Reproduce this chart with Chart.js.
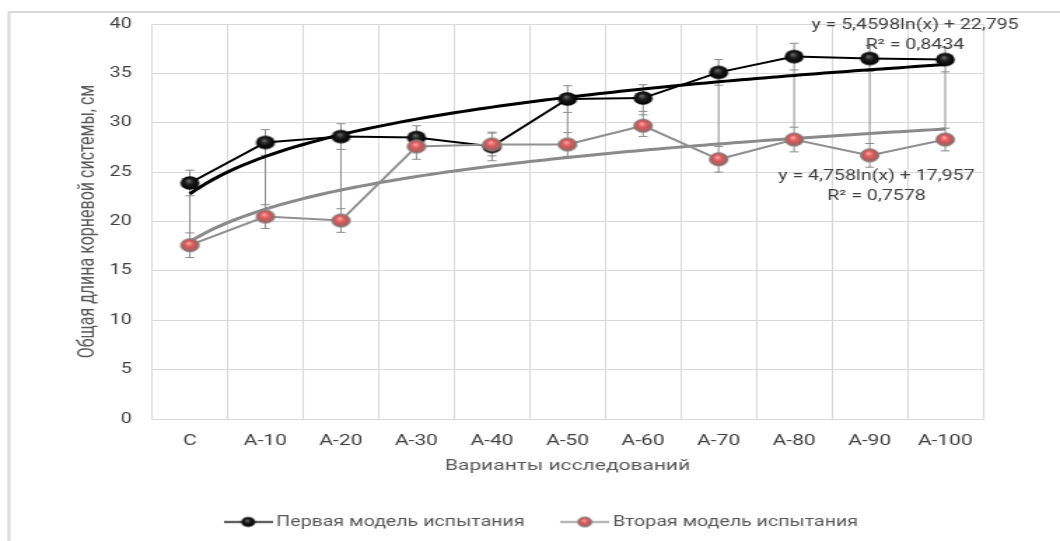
<!DOCTYPE html>
<html lang="ru">
<head>
  <meta charset="UTF-8" />
  <title>Общая длина корневой системы</title>
  <script src="https://cdn.jsdelivr.net/npm/chart.js"></script>
  <style>
    html, body { margin: 0; padding: 0; background: #fff; overflow: hidden; }
    /* the source picture is stretched sideways, so draw narrow and widen it */
    .chart-box { width: 757px; height: 541px; transform: scaleX(1.40026); transform-origin: 0 0; }
  </style>
</head>
<body>
  <div class="chart-box"><canvas id="rootChart"></canvas></div>

  <script>
    const categories = ['C', 'A-10', 'A-20', 'A-30', 'A-40', 'A-50', 'A-60', 'A-70', 'A-80', 'A-90', 'A-100'];
    const seriesNames = ['Первая модель испытания', 'Вторая модель испытания'];

    const firstModel = [23.9, 28.0, 28.6, 28.5, 27.6, 32.4, 32.5, 35.1, 36.7, 36.5, 36.4];
    const firstModelErr = [1.3, 1.3, 1.3, 1.2, 1.45, 1.35, 1.35, 1.3, 1.35, 1.3, 1.25];
    const secondModel = [17.6, 20.5, 20.1, 27.6, 27.8, 27.8, 29.7, 26.3, 28.3, 26.7, 28.3];
    const secondModelErr = [1.25, 1.2, 1.2, 1.3, 1.15, 1.2, 1.1, 1.3, 1.25, 1.2, 1.15];

    // log trendlines as printed on the chart: y = a*ln(x) + b
    const firstTrend = [5.4598, 22.795];
    const secondTrend = [4.758, 17.957];
    const firstTrendText = ['y = 5,4598ln(x) + 22,795', 'R² = 0,8434'];
    const secondTrendText = ['y = 4,758ln(x) + 17,957', 'R² = 0,7578'];

    const yTitle = 'Общая длина корневой системы, см';
    const xTitle = 'Варианты исследований';

    const FONT = 'Roboto, "Open Sans", sans-serif';
    const GRID = '#d9d9d9';

    // glossy ball used as marker (optionally with a line through it for the legend)
    function ballIcon(kind, w, h, r, lineColor) {
      const c = document.createElement('canvas');
      c.width = w; c.height = h;
      const g = c.getContext('2d');
      const cx = w / 2, cy = h / 2;
      if (lineColor) {
        g.strokeStyle = lineColor; g.lineWidth = 1.6;
        g.beginPath(); g.moveTo(0, cy); g.lineTo(w, cy); g.stroke();
      }
      const grad = g.createRadialGradient(cx - r * 0.15, cy - r * 0.35, 0, cx, cy, r);
      if (kind === 'black') {
        grad.addColorStop(0, '#707070');
        grad.addColorStop(0.45, '#1c1c1c');
        grad.addColorStop(1, '#000');
      } else {
        grad.addColorStop(0, '#ffb0b0');
        grad.addColorStop(0.45, '#e05a5a');
        grad.addColorStop(1, '#8e6464');
      }
      g.fillStyle = grad;
      g.beginPath(); g.arc(cx, cy, r, 0, Math.PI * 2); g.fill();
      if (kind !== 'black') {
        g.strokeStyle = '#8a8a8a'; g.lineWidth = 1; g.stroke();
      }
      return c;
    }

    const blackBall = ballIcon('black', 16, 16, 6.8);
    const redBall = ballIcon('red', 16, 16, 6.6);
    const legendIcons = [ballIcon('black', 35, 13, 5, '#000'), ballIcon('red', 35, 13, 5, '#8c8c8c')];

    function trendPoints(coef) {
      const pts = [];
      for (let k = 0; k <= 100; k++) {
        const x = 1 + k / 10;
        pts.push({ x: x, y: coef[0] * Math.log(x) + coef[1] });
      }
      return pts;
    }

    // frame lines and white background
    const framePlugin = {
      id: 'frame',
      beforeDraw(chart) {
        const { ctx, width, height } = chart;
        ctx.save();
        ctx.fillStyle = '#fff';
        ctx.fillRect(0, 0, width, height);
        ctx.strokeStyle = GRID;
        ctx.lineWidth = 2;
        ctx.beginPath();
        ctx.moveTo(6.4, height); ctx.lineTo(6.4, 12); ctx.lineTo(width, 12);
        ctx.stroke();
        ctx.restore();
      }
    };

    // vertical error bars with caps, drawn under the lines
    const errorBarPlugin = {
      id: 'errorBars',
      beforeDatasetsDraw(chart) {
        const { ctx } = chart;
        const x = chart.scales.x, y = chart.scales.y;
        ctx.save();
        ctx.strokeStyle = '#8c8c8c';
        ctx.lineWidth = 1;
        categories.forEach((c, i) => {
          const px = x.getPixelForValue(i);
          const ends = [
            firstModel[i] + firstModelErr[i], firstModel[i] - firstModelErr[i],
            secondModel[i] + secondModelErr[i], secondModel[i] - secondModelErr[i]
          ];
          ctx.beginPath();
          ctx.moveTo(px, y.getPixelForValue(Math.max(...ends)));
          ctx.lineTo(px, y.getPixelForValue(Math.min(...ends)));
          ends.forEach(v => {
            const py = y.getPixelForValue(v);
            ctx.moveTo(px - 3.2, py);
            ctx.lineTo(px + 3.2, py);
          });
          ctx.stroke();
        });
        ctx.restore();
      }
    };

    // trendline equations
    const trendLabels = [
      { lines: firstTrendText, at: [10.6, 39.8] },
      { lines: secondTrendText, at: [10.09, 24.6] }
    ];
    const trendLabelPlugin = {
      id: 'trendLabels',
      afterDatasetsDraw(chart) {
        const { ctx } = chart;
        const xt = chart.scales.xt, y = chart.scales.y;
        ctx.save();
        ctx.font = '14px ' + FONT;
        ctx.fillStyle = '#404040';
        ctx.textAlign = 'center';
        ctx.textBaseline = 'middle';
        trendLabels.forEach(lbl => {
          const px = xt.getPixelForValue(lbl.at[0]);
          const py = y.getPixelForValue(lbl.at[1]);
          lbl.lines.forEach((t, k) => ctx.fillText(t, px, py + k * 20));
        });
        ctx.restore();
      }
    };

    const ctx = document.getElementById('rootChart').getContext('2d');
    new Chart(ctx, {
      type: 'line',
      data: {
        labels: categories,
        datasets: [
          {
            label: seriesNames[0],
            data: firstModel,
            borderColor: '#000',
            borderWidth: 2,
            pointStyle: blackBall,
            pointRadius: 7,
            order: 1
          },
          {
            label: seriesNames[1],
            data: secondModel,
            borderColor: '#8f8f8f',
            borderWidth: 2,
            pointStyle: redBall,
            pointRadius: 7,
            order: 0
          },
          {
            label: 'trend1',
            data: trendPoints(firstTrend),
            xAxisID: 'xt',
            borderColor: '#000',
            borderWidth: 3,
            pointRadius: 0,
            order: 2
          },
          {
            label: 'trend2',
            data: trendPoints(secondTrend),
            xAxisID: 'xt',
            borderColor: '#8a8a8a',
            borderWidth: 3,
            pointRadius: 0,
            order: 3
          }
        ]
      },
      options: {
        responsive: true,
        maintainAspectRatio: false,
        animation: false,
        events: [],
        layout: { padding: { left: 75, right: 55, top: 24, bottom: 2 } },
        scales: {
          x: {
            type: 'category',
            offset: true,
            grid: { offset: true, color: GRID, drawTicks: false },
            border: { color: GRID },
            ticks: { padding: 13, color: '#404040', font: { family: FONT, size: 15 }, maxRotation: 0, autoSkip: false },
            title: { display: true, text: xTitle, color: '#595959', font: { family: FONT, size: 15 }, padding: { top: 0, bottom: 10 } },
            afterFit(s) { s.height = 66; }
          },
          xt: { type: 'linear', display: false, min: 0.5, max: 11.5 },
          y: {
            min: 0,
            max: 40,
            grid: { color: GRID, drawTicks: false },
            border: { color: GRID },
            ticks: { stepSize: 5, padding: 14.6, color: '#404040', font: { family: FONT, size: 14 } },
            title: { display: true, text: yTitle, color: '#595959', font: { family: FONT, size: 16 }, padding: { top: -22.1, bottom: 0 } },
            afterFit(s) { s.width = 33.6; }
          }
        },
        plugins: {
          tooltip: { enabled: false },
          legend: {
            position: 'bottom',
            labels: {
              usePointStyle: true,
              pointStyleWidth: 26,
              padding: 30,
              color: '#595959',
              font: { family: FONT, size: 14 },
              generateLabels: () => seriesNames.map((name, i) => ({
                text: name,
                datasetIndex: i,
                pointStyle: legendIcons[i],
                fontColor: '#595959',
                fillStyle: 'transparent',
                strokeStyle: 'transparent',
                lineWidth: 0,
                hidden: false
              }))
            }
          }
        }
      },
      plugins: [framePlugin, errorBarPlugin, trendLabelPlugin]
    });
  </script>
</body>
</html>
